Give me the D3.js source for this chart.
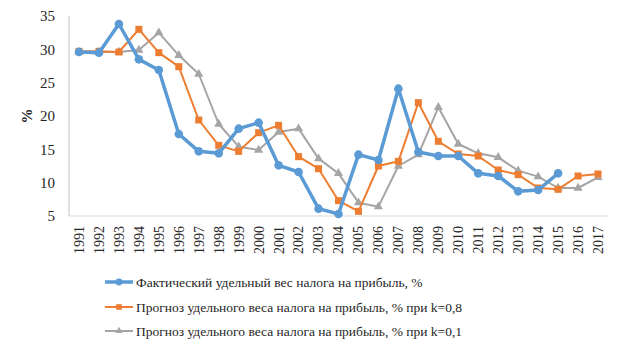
<!DOCTYPE html>
<html>
<head>
<meta charset="utf-8">
<script src="https://cdn.jsdelivr.net/npm/d3@7"></script>
<style>
  body { margin: 0; background: #fff; }
  text { font-family: "Liberation Serif"; }
</style>
</head>
<body>
<svg width="624" height="351"></svg>
<script>
const years = d3.range(1991, 2018).map(String);
const yTicks = [5, 10, 15, 20, 25, 30, 35];

// фактический удельный вес (до 2015)
const actual = [29.6, 29.5, 33.8, 28.5, 26.9, 17.3, 14.7, 14.4, 18.1, 19.0, 12.6, 11.6, 6.1,
  5.3, 14.2, 13.4, 24.1, 14.6, 14.0, 14.0, 11.4, 11.0, 8.7, 8.9, 11.4];
// прогноз k=0,8
const fc08 = [29.7, 29.7, 29.6, 33.0, 29.5, 27.4, 19.4, 15.6, 14.7, 17.5, 18.6, 13.9, 12.1,
  7.3, 5.7, 12.5, 13.2, 22.0, 16.2, 14.3, 14.0, 11.9, 11.2, 9.2, 9.0, 11.0, 11.3];
// прогноз k=0,1
const fc01 = [29.6, 29.6, 29.6, 29.9, 32.5, 29.1, 26.3, 18.8, 15.4, 14.9, 17.6, 18.1, 13.6,
  11.4, 7.0, 6.4, 12.5, 14.2, 21.3, 15.8, 14.4, 13.8, 11.8, 10.9, 9.2, 9.2, 10.8];

const seriesNames = [
  "Фактический удельный вес налога на прибыль, %",
  "Прогноз удельного веса налога на прибыль, % при k=0,8",
  "Прогноз удельного веса налога на прибыль, % при k=0,1"
];

const svg = d3.select("svg");
const plot = { left: 69, right: 608, top: 16, bottom: 216 };

const x = d3.scalePoint().domain(years).range([plot.left, plot.right]).padding(0.5);
const y = d3.scaleLinear().domain([5, 35]).range([plot.bottom, plot.top]);

// axes
svg.append("line")
  .attr("x1", plot.left).attr("x2", plot.left)
  .attr("y1", plot.top).attr("y2", plot.bottom)
  .attr("stroke", "#bfbfbf");
svg.append("line")
  .attr("x1", plot.left).attr("x2", plot.right)
  .attr("y1", plot.bottom).attr("y2", plot.bottom)
  .attr("stroke", "#d9d9d9");

svg.selectAll(".ytick")
  .data(yTicks)
  .enter()
  .append("text")
  .attr("class", "ytick")
  .attr("x", 55)
  .attr("y", d => y(d))
  .attr("dy", "0.35em")
  .attr("text-anchor", "end")
  .attr("font-size", 15)
  .attr("fill", "#262626")
  .text(d => d);

svg.selectAll(".xtick")
  .data(years)
  .enter()
  .append("text")
  .attr("class", "xtick")
  .attr("transform", d => "translate(" + x(d) + "," + (plot.bottom + 10) + ") rotate(-90)")
  .attr("dy", "0.35em")
  .attr("text-anchor", "end")
  .attr("font-size", 14)
  .attr("fill", "#262626")
  .text(d => d);

svg.append("text")
  .attr("transform", "translate(27," + y(20) + ") rotate(-90)")
  .attr("text-anchor", "middle")
  .attr("dy", "0.35em")
  .attr("font-size", 15)
  .attr("font-weight", "bold")
  .attr("fill", "#262626")
  .text("%");

const line = d3.line().x((d, i) => x(years[i])).y(d => y(d));

const series = [
  { values: actual, color: "#5b9bd5", width: 3.5, marker: "circle" },
  { values: fc08, color: "#ed7d31", width: 2, marker: "square" },
  { values: fc01, color: "#a5a5a5", width: 2, marker: "triangle" }
];

function drawMarker(g, type, color, cx, cy, s) {
  if (type === "circle") {
    g.append("circle").attr("cx", cx).attr("cy", cy).attr("r", 4.3 * s).attr("fill", color);
  } else if (type === "square") {
    const h = 3.5 * s;
    g.append("rect").attr("x", cx - h).attr("y", cy - h).attr("width", 2 * h).attr("height", 2 * h).attr("fill", color);
  } else {
    const sym = d3.symbol().type(d3.symbolTriangle).size(36 * s * s);
    g.append("path").attr("transform", "translate(" + cx + "," + cy + ")").attr("d", sym()).attr("fill", color);
  }
}

// gray first, then orange, blue on top
series.slice().reverse().forEach(s => {
  const g = svg.append("g");
  g.append("path")
    .datum(s.values)
    .attr("d", line)
    .attr("fill", "none")
    .attr("stroke", s.color)
    .attr("stroke-width", s.width)
    .attr("stroke-linejoin", "round");
  s.values.forEach((v, i) => drawMarker(g, s.marker, s.color, x(years[i]), y(v), 1));
});

// legend
const legendY = [282, 307, 331];
series.forEach((s, i) => {
  const g = svg.append("g");
  g.append("line")
    .attr("x1", 105).attr("x2", 133)
    .attr("y1", legendY[i]).attr("y2", legendY[i])
    .attr("stroke", s.color)
    .attr("stroke-width", s.width);
  drawMarker(g, s.marker, s.color, 119, legendY[i], 0.8);
  g.append("text")
    .attr("x", 136)
    .attr("y", legendY[i])
    .attr("dy", "0.35em")
    .attr("font-size", 13.5)
    .attr("fill", "#262626")
    .text(seriesNames[i]);
});
</script>
</body>
</html>
